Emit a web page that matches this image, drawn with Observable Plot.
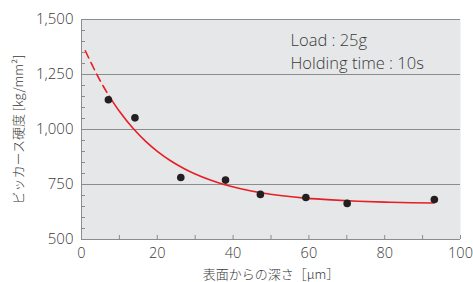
<!DOCTYPE html>
<html>
<head>
<meta charset="utf-8">
<script src="https://cdn.jsdelivr.net/npm/d3@7"></script>
<script src="https://cdn.jsdelivr.net/npm/@observablehq/plot@0.6"></script>
<style>
  html, body { margin: 0; padding: 0; background: #fff; }
  #chart { width: 473px; height: 282px; }
</style>
</head>
<body>
<div id="chart"></div>
<script>
// Measured points: depth from surface [µm] and Vickers hardness [kg/mm²]
const depth    = [7.1, 14.1, 26.2, 38.0, 47.2, 59.2, 70.1, 93.1];
const hardness = [1135, 1053, 782, 770, 705, 691, 664, 682];

// Fitted curve (dashed extrapolated part, then solid part)
const dashX = [1, 2.5, 4, 5.5, 7.3];
const dashY = [1358, 1304, 1252, 1204, 1152];
const fitX  = [7.3, 10, 13.7, 17, 20, 23.6, 27, 30, 34, 37.6, 42, 47, 53, 59, 66, 73, 80, 87, 93];
const fitY  = [1152, 1083, 1003, 945, 901, 857, 823, 798, 770, 750, 731, 714, 699, 688, 680, 674, 670, 667, 666];

// Axes
const xTickLabels = [0, 20, 40, 60, 80, 100];
const xMinorTicks = [0, 10, 20, 30, 40, 50, 60, 70, 80, 90, 100];
const yTickLabels = [500, 750, 1000, 1250, 1500];
const yMinorTicks = d3.range(500, 1501, 50);
const gridLines   = [750, 1000, 1250, 1500];

const xTitle = "表面からの深さ［μm］";
const yTitle = "ビッカース硬度 [kg/mm²]";
const noteText = ["Load : 25g", "Holding time : 10s"];

const points = depth.map((d, i) => ({x: d, y: hardness[i]}));
const dashed = dashX.map((d, i) => ({x: d, y: dashY[i]}));
const solid  = fitX.map((d, i) => ({x: d, y: fitY[i]}));

const gray = "#8c8c8c";
const textColor = "#3a3a3a";
const font = "'Open Sans', 'Noto Sans CJK JP', 'Noto Sans', sans-serif";

const chart = Plot.plot({
  width: 473,
  height: 282,
  marginLeft: 81,
  marginRight: 13,
  marginTop: 19,
  marginBottom: 43,
  style: {fontFamily: font, fontWeight: 300, background: "#fff", color: textColor},
  x: {domain: [0, 100]},
  y: {domain: [500, 1500]},
  marks: [
    Plot.frame({fill: "#e6e7e8", stroke: null}),
    Plot.ruleY(gridLines, {stroke: gray, strokeWidth: 1}),
    Plot.ruleY([500], {stroke: gray, strokeWidth: 1}),
    Plot.ruleX([0], {stroke: gray, strokeWidth: 1}),
    Plot.axisX({ticks: xMinorTicks, tickSize: -4, text: null, stroke: gray, label: null}),
    Plot.axisY({ticks: yMinorTicks, tickSize: -4, text: null, stroke: gray, label: null}),
    Plot.axisX({ticks: xTickLabels, tickSize: 0, tickPadding: 8, fontSize: 14.5, fill: textColor,
                label: xTitle, labelAnchor: "center", labelArrow: "none", labelOffset: 39}),
    Plot.axisY({ticks: yTickLabels, tickSize: 0, tickPadding: 8, fontSize: 15, fill: textColor,
                tickFormat: d3.format(","),
                label: yTitle, labelAnchor: "center", labelArrow: "none", labelOffset: 68}),
    Plot.line(dashed, {x: "x", y: "y", stroke: "#e61e25", strokeWidth: 1.6, strokeDasharray: "8,5", curve: "natural"}),
    Plot.line(solid, {x: "x", y: "y", stroke: "#e61e25", strokeWidth: 1.6, curve: "natural"}),
    Plot.dot(points, {x: "x", y: "y", r: 3.8, fill: "#231f20", stroke: null}),
    Plot.text([noteText.join("\n")], {frameAnchor: "top-left", dx: 209, dy: 9, textAnchor: "start",
               lineAnchor: "top", lineHeight: 1.45, fontSize: 16.5, fill: textColor})
  ]
});
chart.querySelectorAll('g[aria-label="x-axis label"] text, g[aria-label="y-axis label"] text').forEach(t => {
  t.setAttribute("font-size", 13);
  t.setAttribute("font-family", "'Noto Sans CJK JP', sans-serif");
});
document.getElementById("chart").appendChild(chart);
</script>
</body>
</html>
